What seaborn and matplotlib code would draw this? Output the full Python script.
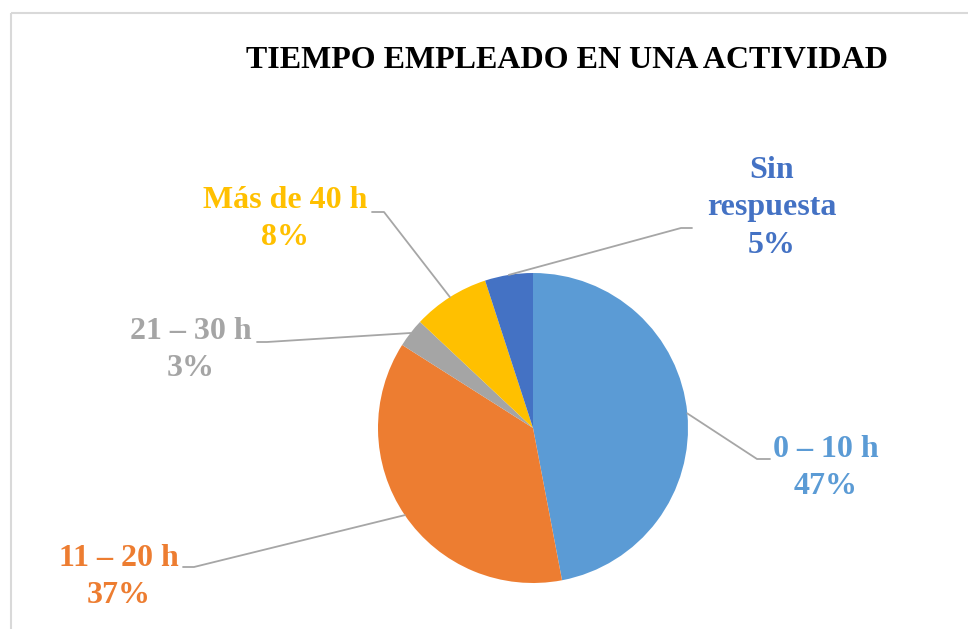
import numpy as np
import matplotlib
matplotlib.use('Agg')
import matplotlib.pyplot as plt
import seaborn as sns
from matplotlib.patches import Rectangle

categories = ['0 – 10 h', '11 – 20 h', '21 – 30 h', 'Más de 40 h', 'Sin\nrespuesta']
values = [47, 37, 3, 8, 5]
colors = ['#5B9BD5', '#ED7D31', '#A5A5A5', '#FFC000', '#4472C4']

# label layout (pixels): text center, elbow point, end of leader line
label_pos = [(826, 468), (119, 577), (191, 350), (285, 219), (772, 208)]
elbows = [(757, 459), (194, 567), (267, 342), (384, 212), (681, 228)]
ends = [(770, 459), (183, 567), (257, 342), (372, 212), (692, 228)]

sns.set_style('white')
plt.rcParams['font.family'] = ['Liberation Serif', 'DejaVu Serif']

W, H = 968, 629
fig = plt.figure(figsize=(W / 100, H / 100), dpi=100)

# pie center and radius in pixels
CX, CY, R = 533, 428, 155
ax = fig.add_axes([(CX - R) / W, (H - CY - R) / H, 2 * R / W, 2 * R / H])
wedges, _ = ax.pie(values, colors=colors, startangle=90, counterclock=False,
                   wedgeprops=dict(linewidth=0))
ax.set_xlim(-1, 1)
ax.set_ylim(-1, 1)
ax.set_aspect('auto')
ax.axis('off')

ov = fig.add_axes([0, 0, 1, 1])
ov.set_xlim(0, W)
ov.set_ylim(H, 0)
ov.axis('off')
ov.patch.set_alpha(0)

ov.add_patch(Rectangle((11, 13), W, H, fill=False, edgecolor='#D9D9D9',
                       lw=1.5, clip_on=False))

ov.text(567, 61, 'TIEMPO EMPLEADO EN UNA ACTIVIDAD', ha='center', va='center',
        fontsize=23, fontweight='bold', color='black')

for w, cat, v, c, tp, el, en in zip(wedges, categories, values, colors,
                                     label_pos, elbows, ends):
    ang = np.deg2rad((w.theta1 + w.theta2) / 2)
    sx = CX + R * np.cos(ang)
    sy = CY - R * np.sin(ang)
    ov.plot([sx, el[0], en[0]], [sy, el[1], en[1]], color='#A6A6A6', lw=1.3)
    ov.text(tp[0], tp[1], f'{cat}\n{v}%', ha='center', va='center',
            fontsize=23, fontweight='bold', color=c, linespacing=1.38)

fig.savefig('out.png', dpi=100)
